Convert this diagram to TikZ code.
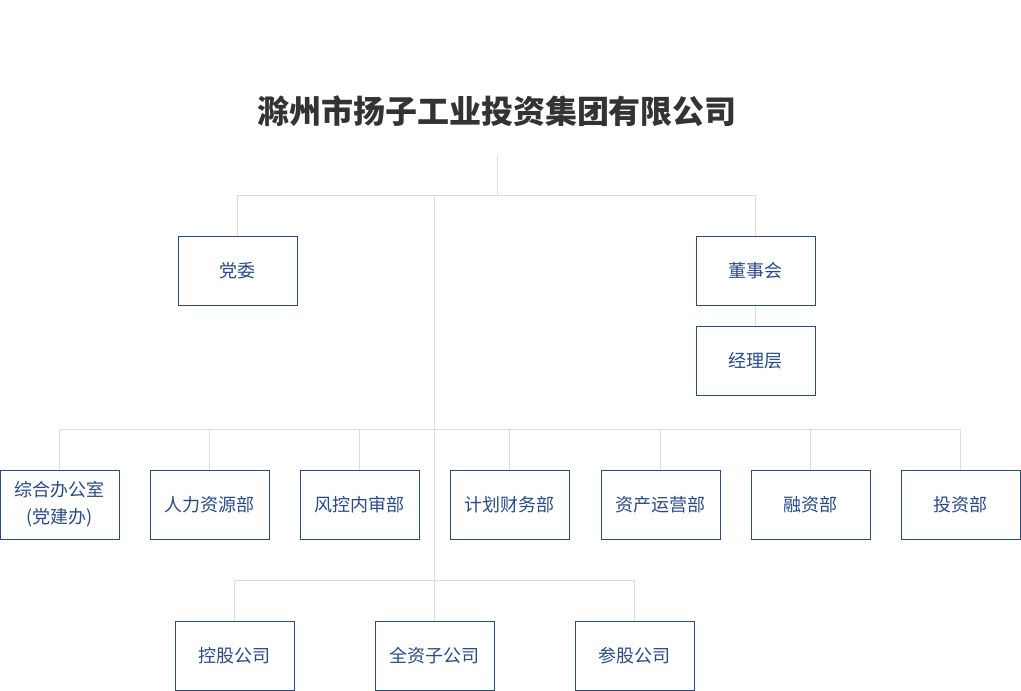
\documentclass[tikz,border=0pt]{standalone}
\usepackage{fontspec}
\setmainfont{Noto Sans CJK SC}
\definecolor{linec}{HTML}{DDDDDD}
\definecolor{boxc}{HTML}{2B4B7C}
\definecolor{txtc}{HTML}{2A4A85}
\definecolor{titlec}{HTML}{333333}
\begin{document}
\begin{tikzpicture}[x=1pt,y=-1pt,
  box/.style={draw=boxc, line width=1pt, rectangle, minimum width=119pt, minimum height=69pt,
    inner sep=0pt, font=\fontsize{18}{27}\selectfont, text=txtc, align=center},
  link/.style={draw=linec, line width=1pt}]
\useasboundingbox[fill=white] (0,0) rectangle (1021,691);
\node[font=\fontsize{32}{36}\selectfont\bfseries, text=titlec, inner sep=0pt] (title) at (497,111) {滁州市扬子工业投资集团有限公司};
\coordinate (t0) at (497,155);
\coordinate (j1) at (497,195);
\coordinate (b2) at (0,429);
\coordinate (b3) at (0,580);
% top level
\node[box] (dw) at (237.5,270.5) {党委};
\node[box] (dsh) at (755.5,270.5) {董事会};
\node[box] (jll) at (755.5,360.5) {经理层};
% row 2
\node[box] (n1) at (59.5,504.5) {综合办公室\\(党建办)};
\node[box] (n2) at (209.5,504.5) {人力资源部};
\node[box] (n3) at (359.5,504.5) {风控内审部};
\node[box] (n4) at (509.5,504.5) {计划财务部};
\node[box] (n5) at (660.5,504.5) {资产运营部};
\node[box] (n6) at (810.5,504.5) {融资部};
\node[box] (n7) at (960.5,504.5) {投资部};
% row 3
\node[box] (m1) at (234.5,655.5) {控股公司};
\node[box] (m2) at (434.5,655.5) {全资子公司};
\node[box] (m3) at (634.5,655.5) {参股公司};
% connectors
\draw[link] (t0) -- (j1);
\draw[link] (dw.north) -- (dw.north |- j1) -- (dsh.north |- j1) -- (dsh.north);
\draw[link] (dsh) -- (jll);
\draw[link] (m2.north |- j1) -- (m2.north);
\draw[link] (n1.north) -- (n1.north |- b2) -- (n7.north |- b2) -- (n7.north);
\foreach \n in {n2,n3,n4,n5,n6} \draw[link] (\n.north) -- (\n.north |- b2);
\draw[link] (m1.north) -- (m1.north |- b3) -- (m3.north |- b3) -- (m3.north);
\end{tikzpicture}
\end{document}
